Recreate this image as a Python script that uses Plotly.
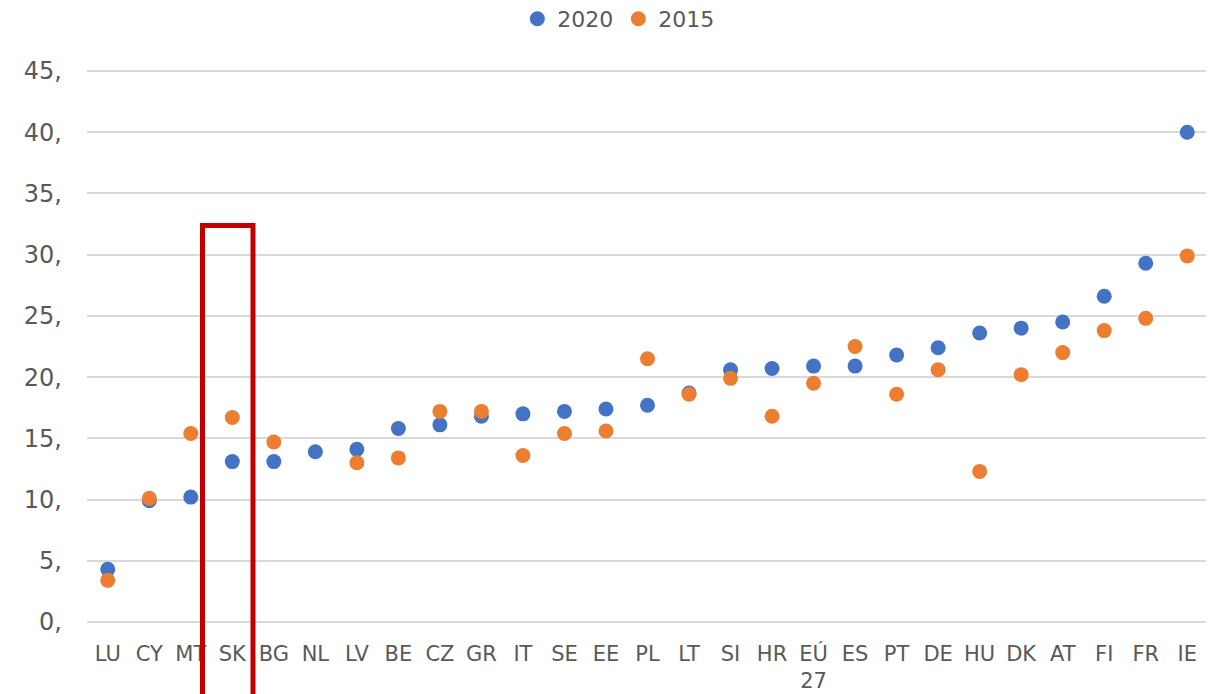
import plotly.graph_objects as go

categories = ["LU", "CY", "MT", "SK", "BG", "NL", "LV", "BE", "CZ", "GR", "IT", "SE", "EE",
              "PL", "LT", "SI", "HR", "EÚ<br>27", "ES", "PT", "DE", "HU", "DK", "AT", "FI", "FR", "IE"]
values_2020 = [4.3, 9.9, 10.2, 13.1, 13.1, 13.9, 14.1, 15.8, 16.1, 16.8, 17.0, 17.2, 17.4,
               17.7, 18.7, 20.6, 20.7, 20.9, 20.9, 21.8, 22.4, 23.6, 24.0, 24.5, 26.6, 29.3, 40.0]
values_2015 = [3.4, 10.1, 15.4, 16.7, 14.7, None, 13.0, 13.4, 17.2, 17.2, 13.6, 15.4, 15.6,
               21.5, 18.6, 19.9, 16.8, 19.5, 22.5, 18.6, 20.6, 12.3, 20.2, 22.0, 23.8, 24.8, 29.9]
y_tickvals = [0, 5, 10, 15, 20, 25, 30, 35, 40, 45]
y_ticktext = [f"{v}," for v in y_tickvals]

FONT = "DejaVu Sans"
TXT = "#595959"

fig = go.Figure()
fig.add_trace(go.Scatter(x=categories, y=values_2020, mode="markers", name="2020",
                         marker=dict(color="#4472C4", size=15)))
fig.add_trace(go.Scatter(x=categories, y=values_2015, mode="markers", name="2015",
                         marker=dict(color="#ED7D31", size=15)))

OFF = 8   # page body margin (figure is drawn 8px right and down)
PAD = 4   # extra px above 45 and below 0 so the edge gridlines are drawn
W, H = 1214 - OFF, 694 - OFF
L, R, T, B = 87 - OFF, 6, 71 - OFF - PAD, 72 - PAD
pw = W - L - R
ph = H - T - B
k = (622 - 71) / 45.0
ext = PAD / k

# highlight rectangle around SK (page px: x 202.5..253, top 225.5)
fig.add_shape(type="rect", xref="paper", yref="paper",
              x0=(202.5 - OFF - L) / pw, x1=(253 - OFF - L) / pw,
              y0=-0.3, y1=(694 - B - 225.5) / ph,
              line=dict(color="#C00000", width=5), fillcolor="rgba(0,0,0,0)", layer="above")

fig.update_layout(
    width=W, height=H,
    margin=dict(l=L, r=R, t=T, b=B, autoexpand=False),
    plot_bgcolor="white", paper_bgcolor="white",
    font=dict(family=FONT, size=21, color=TXT),
    showlegend=True,
    legend=dict(orientation="h", x=0.474, xanchor="center",
                yref="container", y=1 - 11 / H, yanchor="middle",
                font=dict(size=22, color=TXT), tracegroupgap=0),
    xaxis=dict(type="category", showgrid=False, showline=False, zeroline=False,
               ticks="", tickfont=dict(size=21, color=TXT), ticklabelstandoff=13,
               range=[-0.5, len(categories) - 0.5]),
    yaxis=dict(range=[-ext, 45 + ext], tickvals=y_tickvals, ticktext=y_ticktext,
               showgrid=True, gridcolor="#D9D9D9", gridwidth=2, zeroline=False,
               showline=False, ticks="", tickfont=dict(size=24, color=TXT),
               ticklabelstandoff=24),
)

fig.write_html("out.html")
